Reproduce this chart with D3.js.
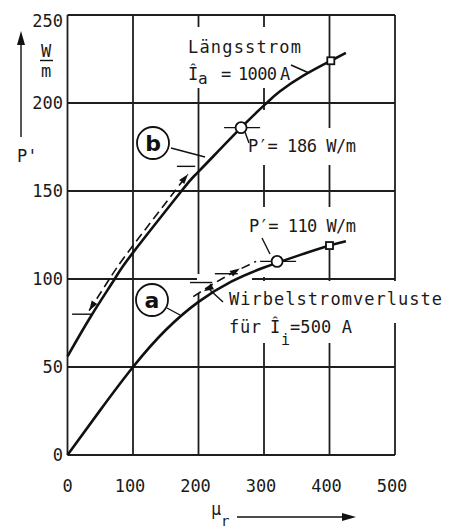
<!DOCTYPE html>
<html>
<head>
<meta charset="utf-8">
<script src="https://cdn.jsdelivr.net/npm/d3@7"></script>
<style>
  body { margin: 0; background: #fff; }
  svg { display: block; font-family: "DejaVu Sans Mono", monospace; }
  .grid line { stroke: #1e1e1e; stroke-width: 1.8; }
  .curve { fill: none; stroke: #111; stroke-width: 2.6; }
  .dashed { fill: none; stroke: #111; stroke-width: 1.6; stroke-dasharray: 9,5; }
  .thin { stroke: #111; stroke-width: 1.4; fill: none; }
  .lbl { fill: #1a1a1a; font-size: 17px; }
</style>
</head>
<body>
<div id="chart"></div>
<script>
// P' (W/m) over mu_r, curve a: Wirbelstromverluste, curve b: Laengsstrom
const xTicks = [0, 100, 200, 300, 400, 500];
const yTicks = [0, 50, 100, 150, 200, 250];

const curveA = [[0,0],[50,25.5],[100,50],[150,71],[200,87],[250,98.5],[300,106.5],[350,113],[400,119],[425,121.5]];
const curveB = [[0,56],[36,79],[72,100],[100,115],[174,150],[200,161],[265,186],[304,200],[324,206.5],[360,215.5],[402,224],[425,228.5]];
const dashedA = [[192,90],[240,101],[288,110]];
const dashedB = [[33,82],[64,100],[96,117],[166,151],[184,159.5]];
const circlePoints = [[320,110],[265,186]];
const squarePoints = [[400,119],[402,224]];
// arrows: [from, tip]
const arrowSegs = [[[45,89],[33,82]], [[172,154],[184,159.5]], [[250,103],[263,106]], [[222,96],[208,93]]];
const stepTicks = [[[7,80],[36,80]], [[167,164],[195,164]], [[225,103],[260,103]], [[187,98],[221,98]]];

const W = 454, H = 531;
const svg = d3.select('#chart').append('svg').attr('width', W).attr('height', H);

const x = d3.scaleLinear().domain([0, 500]).range([67.5, 395]);
const y = d3.scaleLinear().domain([0, 250]).range([455, 15]);

// grid
const grid = svg.append('g').attr('class', 'grid');
grid.selectAll('.v').data(xTicks).join('line').attr('class', 'v')
  .attr('x1', d => x(d)).attr('x2', d => x(d)).attr('y1', y(0)).attr('y2', y(250));
grid.selectAll('.h').data(yTicks).join('line').attr('class', 'h')
  .attr('x1', x(0)).attr('x2', x(500)).attr('y1', d => y(d)).attr('y2', d => y(d));

// white-outs where the lettering interrupts the grid
const masks = [[184,27,122,61],[258,110,14,20],[244,128,120,37],[244,207,120,43],[256,250,18,27],
               [197,274,55,19],[226,281,228,42],[226,323,134,20]];
svg.append('g').selectAll('rect').data(masks).join('rect')
  .attr('x', d => d[0]).attr('y', d => d[1]).attr('width', d => d[2]).attr('height', d => d[3])
  .attr('fill', '#fff');

const line = d3.line().x(d => x(d[0])).y(d => y(d[1])).curve(d3.curveNatural);

svg.append('path').attr('class', 'curve').attr('d', line(curveA));
svg.append('path').attr('class', 'curve').attr('d', line(curveB));
svg.append('path').attr('class', 'dashed').attr('d', line(dashedA));
svg.append('path').attr('class', 'dashed').attr('d', line(dashedB));

// short horizontal step lines
svg.selectAll('.step').data(stepTicks).join('line').attr('class', 'thin step')
  .attr('x1', d => x(d[0][0])).attr('y1', d => y(d[0][1]))
  .attr('x2', d => x(d[1][0])).attr('y2', d => y(d[1][1]));

// arrow heads
svg.selectAll('.arr').data(arrowSegs).join('path').attr('class', 'arr')
  .attr('fill', '#111')
  .attr('d', d => {
    const x0 = x(d[0][0]), y0 = y(d[0][1]), x1 = x(d[1][0]), y1 = y(d[1][1]);
    const a = Math.atan2(y1 - y0, x1 - x0), L = 10, w = 3.3;
    const bx = x1 - L * Math.cos(a), by = y1 - L * Math.sin(a);
    const px = -Math.sin(a) * w, py = Math.cos(a) * w;
    return `M${x1},${y1}L${bx + px},${by + py}L${bx - px},${by - py}Z`;
  });

// horizontal marks through the operating points
svg.selectAll('.mt').data(circlePoints).join('line').attr('class', 'thin mt')
  .attr('x1', d => x(d[0]) - 17).attr('x2', d => x(d[0]) + 19)
  .attr('y1', d => y(d[1])).attr('y2', d => y(d[1]));
svg.selectAll('.pt').data(circlePoints).join('circle')
  .attr('cx', d => x(d[0])).attr('cy', d => y(d[1])).attr('r', 5.5)
  .attr('fill', '#fff').attr('stroke', '#111').attr('stroke-width', 1.8);
svg.selectAll('.sq').data(squarePoints).join('rect')
  .attr('x', d => x(d[0]) - 3.5).attr('y', d => y(d[1]) - 3.5).attr('width', 7).attr('height', 7)
  .attr('fill', '#fff').attr('stroke', '#111').attr('stroke-width', 1.8);

// leaders
const leaders = [[171,148,205,157],[167,308,180,315],[245,132,249,143],[262,238,270,254],
                 [291,65,309,73],[223,302,210,290]];
svg.selectAll('.ld').data(leaders).join('line').attr('class', 'thin ld')
  .attr('x1', d => d[0]).attr('y1', d => d[1]).attr('x2', d => d[2]).attr('y2', d => d[3]);

// circled curve names
const tags = [['b',153,143],['a',152,300]];
const tg = svg.selectAll('.tag').data(tags).join('g').attr('transform', d => `translate(${d[1]},${d[2]})`);
tg.append('circle').attr('r', 16).attr('fill', '#fff').attr('stroke', '#111').attr('stroke-width', 1.8);
tg.append('text').text(d => d[0]).attr('text-anchor', 'middle').attr('dy', '0.36em')
  .style('font-family', '"DejaVu Sans", sans-serif').style('font-weight', 'bold').style('font-size', '22px')
  .attr('fill', '#111');

// axis numbers
svg.selectAll('.xl').data(xTicks).join('text').attr('class', 'lbl')
  .attr('x', d => x(d) - (d ? 3 : 0)).attr('y', 492).attr('text-anchor', 'middle').text(d => d);
svg.selectAll('.yl').data(yTicks).join('text').attr('class', 'lbl')
  .attr('x', 63).attr('y', d => Math.max(y(d) + 6, 27)).attr('text-anchor', 'end').text(d => d);

// y axis title
svg.append('line').attr('class', 'thin').attr('x1', 21).attr('x2', 21).attr('y1', 137).attr('y2', 42);
svg.append('path').attr('d', 'M21,31L17,45L25,45Z').attr('fill', '#111');
svg.append('text').attr('class', 'lbl').attr('x', 46).attr('y', 57).attr('text-anchor', 'middle').text('W');
svg.append('line').attr('class', 'thin').attr('x1', 40).attr('x2', 53).attr('y1', 60.5).attr('y2', 60.5);
svg.append('text').attr('class', 'lbl').attr('x', 46).attr('y', 77).attr('text-anchor', 'middle').text('m');
svg.append('text').attr('class', 'lbl').attr('x', 17).attr('y', 162).text("P'");

// x axis title
svg.append('text').attr('class', 'lbl').attr('x', 211).attr('y', 515).text('μ');
svg.append('text').attr('class', 'lbl').attr('x', 221).attr('y', 526).style('font-size', '14px').text('r');
svg.append('line').attr('class', 'thin').attr('x1', 237).attr('x2', 345).attr('y1', 517).attr('y2', 517);
svg.append('path').attr('d', 'M356,517L342,513L342,521Z').attr('fill', '#111');

// annotations
function label(tx, ty, str, len, size) {
  const t = svg.append('text').attr('class', 'lbl').attr('x', tx).attr('y', ty).text(str);
  if (len) t.attr('textLength', len).attr('lengthAdjust', 'spacing');
  if (size) t.style('font-size', size + 'px');
  return t;
}
label(188, 53, 'Längsstrom', 113);
label(188, 80, 'Î');
label(198, 84, 'a', null, 16);
label(221, 80, '=');
label(238, 80, '1000', 39);
label(280, 80, 'A');
label(248, 152, 'P′= 186 W/m', 108);
label(249, 232, 'P′= 110 W/m', 107);
label(229, 305, 'Wirbelstromverluste', 213);
label(229, 333, 'für', 32);
label(270, 333, 'Î');
label(281, 345, 'i', null, 15);
label(290, 333, '=500 A', 62);
</script>
</body>
</html>
